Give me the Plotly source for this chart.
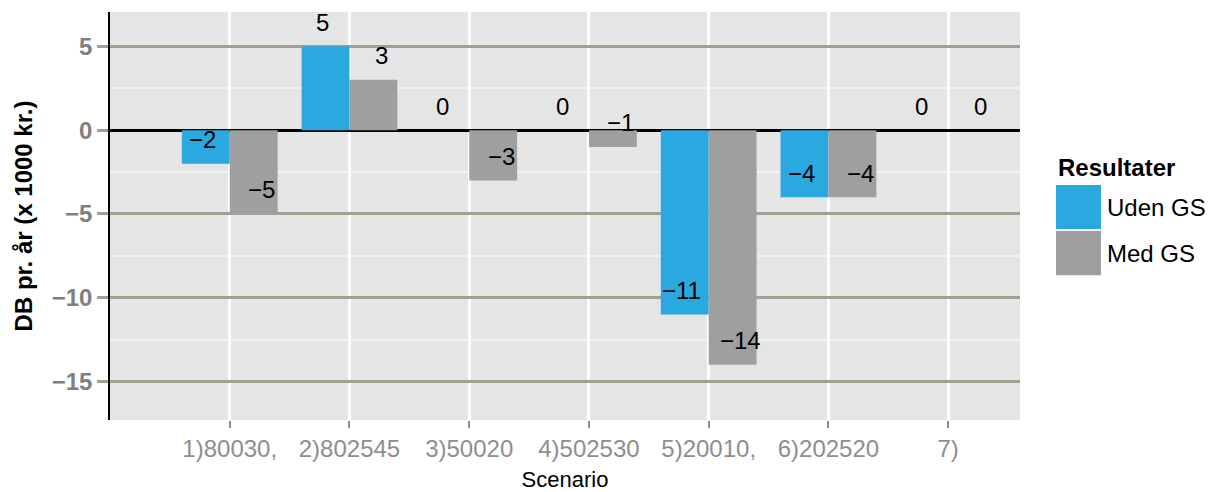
import plotly.graph_objects as go

categories = ["1)80030,", "2)802545", "3)50020", "4)502530", "5)20010,", "6)202520", "7)"]
uden_gs = [-2, 5, 0, 0, -11, -4, 0]
med_gs = [-5, 3, -3, -1, -14, -4, 0]
series_names = ["Uden GS", "Med GS"]
colors = ["#29A9E0", "#9E9FA1"]

pos = list(range(1, len(categories) + 1))
FONT = "Liberation Sans, Arial, Helvetica"

fig = go.Figure()
for name, vals, col in zip(series_names, [uden_gs, med_gs], colors):
    fig.add_trace(go.Bar(x=pos, y=vals, name=name, marker=dict(color=col, line=dict(width=0)),
                         showlegend=False))

def fmt(v):
    return ("\u2212%d" % -v) if v < 0 else "%d" % v

annotations = []
for vals, off, xs in [(uden_gs, -0.2, -3), (med_gs, 0.2, 8)]:
    for p, v in zip(pos, vals):
        annotations.append(dict(x=p + off, y=v, xref="x", yref="y", text=fmt(v),
                                showarrow=False, yshift=24, xshift=xs,
                                font=dict(family=FONT, size=24, color="black")))

# custom legend (big keys like the reference)
annotations.append(dict(x=1.0396, y=0.620, xref="paper", yref="paper", text="<b>Resultater</b>",
                        showarrow=False, xanchor="left", yanchor="middle",
                        font=dict(family=FONT, size=24, color="black")))
shapes = []
leg_rows = [(0.576, 0.468), (0.463, 0.355)]
for (y1, y0), name, col in zip(leg_rows, series_names, colors):
    shapes.append(dict(type="rect", xref="paper", yref="paper", x0=1.0396, x1=1.089, y0=y0, y1=y1,
                       fillcolor=col, line=dict(width=0)))
    annotations.append(dict(x=1.0932, y=(y0 + y1) / 2, xref="paper", yref="paper", text=name,
                            showarrow=False, xanchor="left", yanchor="middle",
                            font=dict(family=FONT, size=24, color="black")))

fig.update_layout(
    width=1205, height=484,
    margin=dict(l=102, r=193, t=4, b=72),
    paper_bgcolor="white", plot_bgcolor="#E5E5E5",
    barmode="group", bargap=0.2, bargroupgap=0,
    annotations=annotations, shapes=shapes,
    font=dict(family=FONT),
    xaxis=dict(range=[0, 7.6], tickmode="array", tickvals=pos, ticktext=categories,
               showgrid=True, gridcolor="white", gridwidth=2.5,
               ticks="outside", ticklen=7, tickcolor="#8C8C8C", tickwidth=1.5,
               tickfont=dict(size=24, color="#8E8E8E"),
               title=dict(text="Scenario", font=dict(size=22, color="black"), standoff=10),
               zeroline=False, showline=False),
    yaxis=dict(range=[-17.3, 7.05], tickmode="array", tickvals=[5, 0, -5, -10, -15],
               showgrid=True, gridcolor="#A0A190", gridwidth=2.5,
               minor=dict(dtick=2.5, tick0=0, showgrid=True, gridcolor="#F2F2F2", gridwidth=1.5, ticks=""),
               ticks="outside", ticklen=11, tickcolor="#A0A190", tickwidth=2.5,
               tickfont=dict(size=24, color="#808080", weight="bold"),
               title=dict(text="<b>DB pr. år (x 1000 kr.)</b>", font=dict(size=24, color="black"), standoff=12),
               zeroline=True, zerolinecolor="black", zerolinewidth=2.5,
               showline=True, linecolor="black", linewidth=1.5),
)

fig.write_html("out.html")
